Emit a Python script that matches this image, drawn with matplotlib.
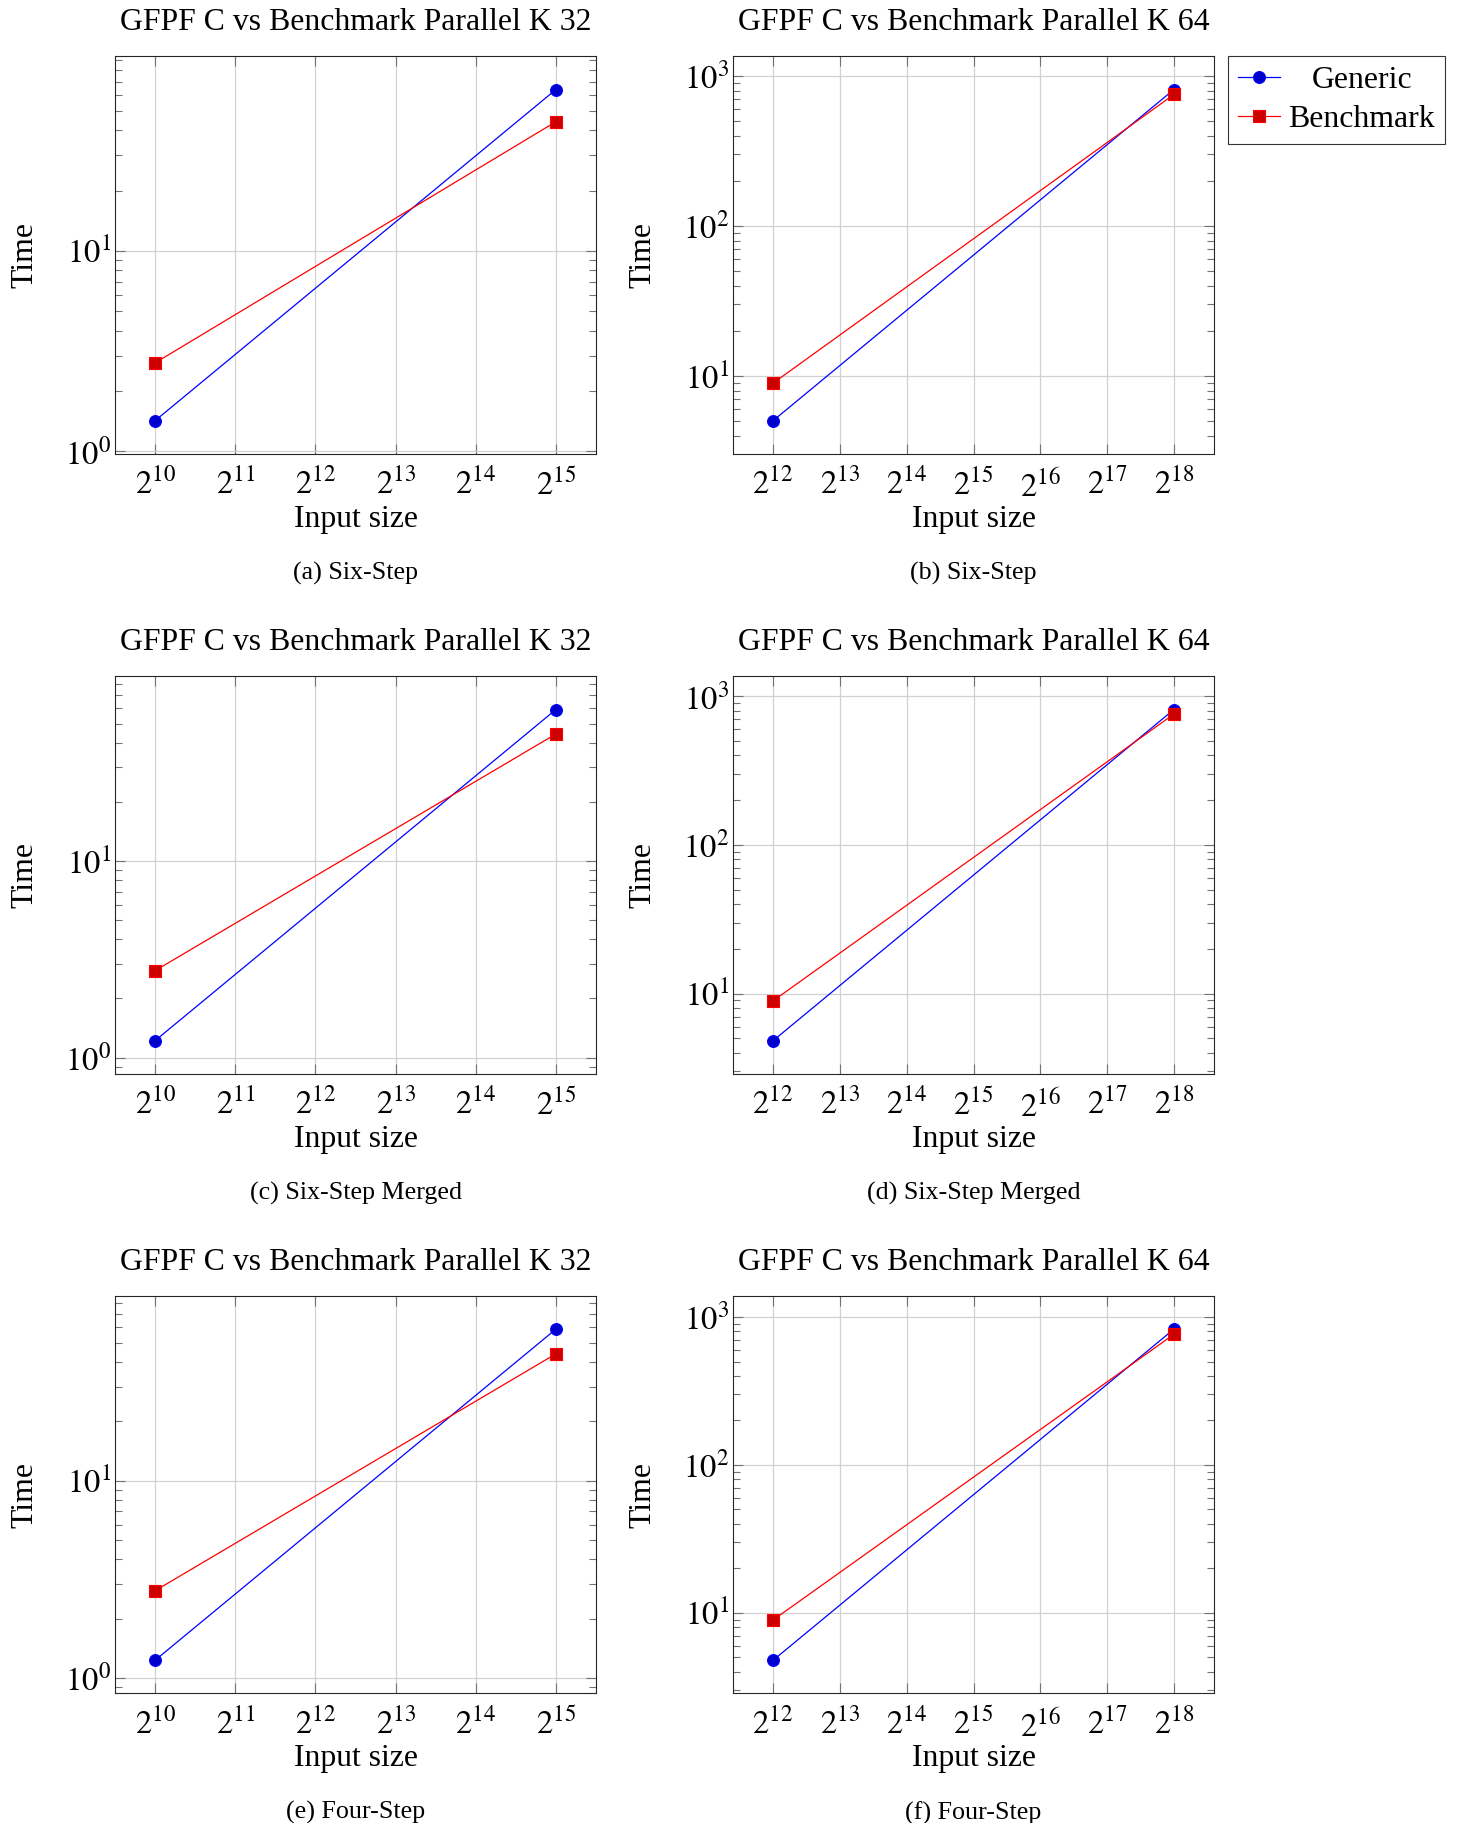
import math
import matplotlib
matplotlib.use('Agg')
import matplotlib.pyplot as plt
import matplotlib.transforms as mtransforms
from matplotlib.ticker import FixedLocator, FuncFormatter, LogLocator, NullLocator, NullFormatter

plt.rcParams['font.family'] = ['Liberation Serif', 'DejaVu Serif']
plt.rcParams['mathtext.fontset'] = 'stix'

# ---------------- data ----------------
k32_sizes = [2**10, 2**15]
k64_sizes = [2**12, 2**18]
k32_tick_exps = [10, 11, 12, 13, 14, 15]
k64_tick_exps = [12, 13, 14, 15, 16, 17, 18]

generic_a = [1.42, 64.0]
bench_a = [2.76, 44.2]
generic_b = [5.04, 813.0]
bench_b = [8.97, 754.0]
generic_c = [1.22, 59.0]
bench_c = [2.77, 44.3]
generic_d = [4.83, 815.0]
bench_d = [8.95, 760.0]
generic_e = [1.23, 58.7]
bench_e = [2.77, 44.0]
generic_f = [4.77, 828.0]
bench_f = [8.93, 764.0]

titles = ["GFPF C vs Benchmark Parallel K 32", "GFPF C vs Benchmark Parallel K 64"]
captions = ["(a) Six-Step", "(b) Six-Step",
            "(c) Six-Step Merged", "(d) Six-Step Merged",
            "(e) Four-Step", "(f) Four-Step"]
series_names = ["Generic", "Benchmark"]

panels = [
    (k32_sizes, k32_tick_exps, generic_a, bench_a, titles[0], captions[0]),
    (k64_sizes, k64_tick_exps, generic_b, bench_b, titles[1], captions[1]),
    (k32_sizes, k32_tick_exps, generic_c, bench_c, titles[0], captions[2]),
    (k64_sizes, k64_tick_exps, generic_d, bench_d, titles[1], captions[3]),
    (k32_sizes, k32_tick_exps, generic_e, bench_e, titles[0], captions[4]),
    (k64_sizes, k64_tick_exps, generic_f, bench_f, titles[1], captions[5]),
]

# ---------------- layout (pixels) ----------------
W, H = 1458, 1823
fig = plt.figure(figsize=(W / 100, H / 100), dpi=100)
col_left = [115, 733]
row_top = [56.4, 676.4, 1296.0]
ax_w, ax_h = 481, 397.4

FS = 22.9
TICK_FS = 23.5
CAP_FS = 18.7
blue = (0, 0, 1)
blue_fill = (0, 0, 0.8)
red = (1, 0, 0)
red_fill = (0.8, 0, 0)

axes = []
for i, (xs, texps, gen, ben, title, cap) in enumerate(panels):
    r, c = divmod(i, 2)
    left, top = col_left[c], row_top[r]
    ax = fig.add_axes([left / W, 1 - (top + ax_h) / H, ax_w / W, ax_h / H])
    axes.append(ax)
    ax.set_xscale('log', base=2)
    ax.set_yscale('log', base=10)
    ax.plot(xs, gen, color=blue, lw=0.9, marker='o', ms=8.5,
            mfc=blue_fill, mec=blue, mew=0.8, label=series_names[0], zorder=3)
    ax.plot(xs, ben, color=red, lw=0.9, marker='s', ms=8.0,
            mfc=red_fill, mec=red, mew=0.8, label=series_names[1], zorder=3)
    ax.margins(x=0.1, y=0.1)

    ax.xaxis.set_major_locator(FixedLocator([2.0 ** e for e in texps]))
    ax.xaxis.set_major_formatter(FuncFormatter(
        lambda v, p: r'$2^{%d}$' % round(math.log2(v))))
    ax.xaxis.set_minor_locator(NullLocator())
    ax.yaxis.set_major_locator(LogLocator(base=10, numticks=10))
    ax.yaxis.set_major_formatter(FuncFormatter(
        lambda v, p: r'$10^{%d}$' % round(math.log10(v))))
    ax.yaxis.set_minor_locator(LogLocator(base=10, subs=[2, 3, 4, 5, 6, 7, 8, 9], numticks=20))
    ax.yaxis.set_minor_formatter(NullFormatter())

    ax.grid(True, which='major', color='0.82', lw=0.9, zorder=0)
    ax.set_axisbelow(True)
    ax.tick_params(which='both', direction='in', top=True, right=True,
                   color='0.45', width=0.8, labelsize=TICK_FS)
    ax.tick_params(which='major', length=7)
    ax.tick_params(which='minor', length=4.8)
    ax.tick_params(axis='x', pad=11)
    ax.tick_params(axis='y', pad=3)
    for s in ax.spines.values():
        s.set_linewidth(0.8)
        s.set_color('0.15')

    ax.set_title(title, fontsize=FS, pad=19)
    ax.set_xlabel("Input size", fontsize=FS)
    ax.xaxis.set_label_coords(0.5, -0.128)
    ax.set_ylabel("Time", fontsize=FS)
    ax.yaxis.set_label_coords(-0.157, 0.5)

    fig.text((left + ax_w / 2) / W, 1 - (top + ax_h + 119.5) / H, cap,
             fontsize=CAP_FS, ha='center', va='center')

# legend next to panel (b)
ax_b = axes[1]
leg = fig.legend(handles=ax_b.get_lines(), labels=series_names,
                 loc='upper left',
                 bbox_to_anchor=(1228 / W, 1 - 56.4 / H),
                 fontsize=FS, frameon=True, fancybox=False, framealpha=1,
                 edgecolor='0.2', handlelength=1.35, handletextpad=0.25,
                 borderpad=0.3, labelspacing=0.3, borderaxespad=0)
leg.get_frame().set_linewidth(0.8)

# center "Generic" within the text column like pgfplots
fig.canvas.draw()
renderer = fig.canvas.get_renderer()
texts = leg.get_texts()
widths = [t.get_window_extent(renderer).width for t in texts]
wmax = max(widths)
for t, w in zip(texts, widths):
    dx = (wmax - w) / 2
    t.set_transform(t.get_transform() + mtransforms.Affine2D().translate(dx, 0))

fig.savefig('out.png', dpi=100)
